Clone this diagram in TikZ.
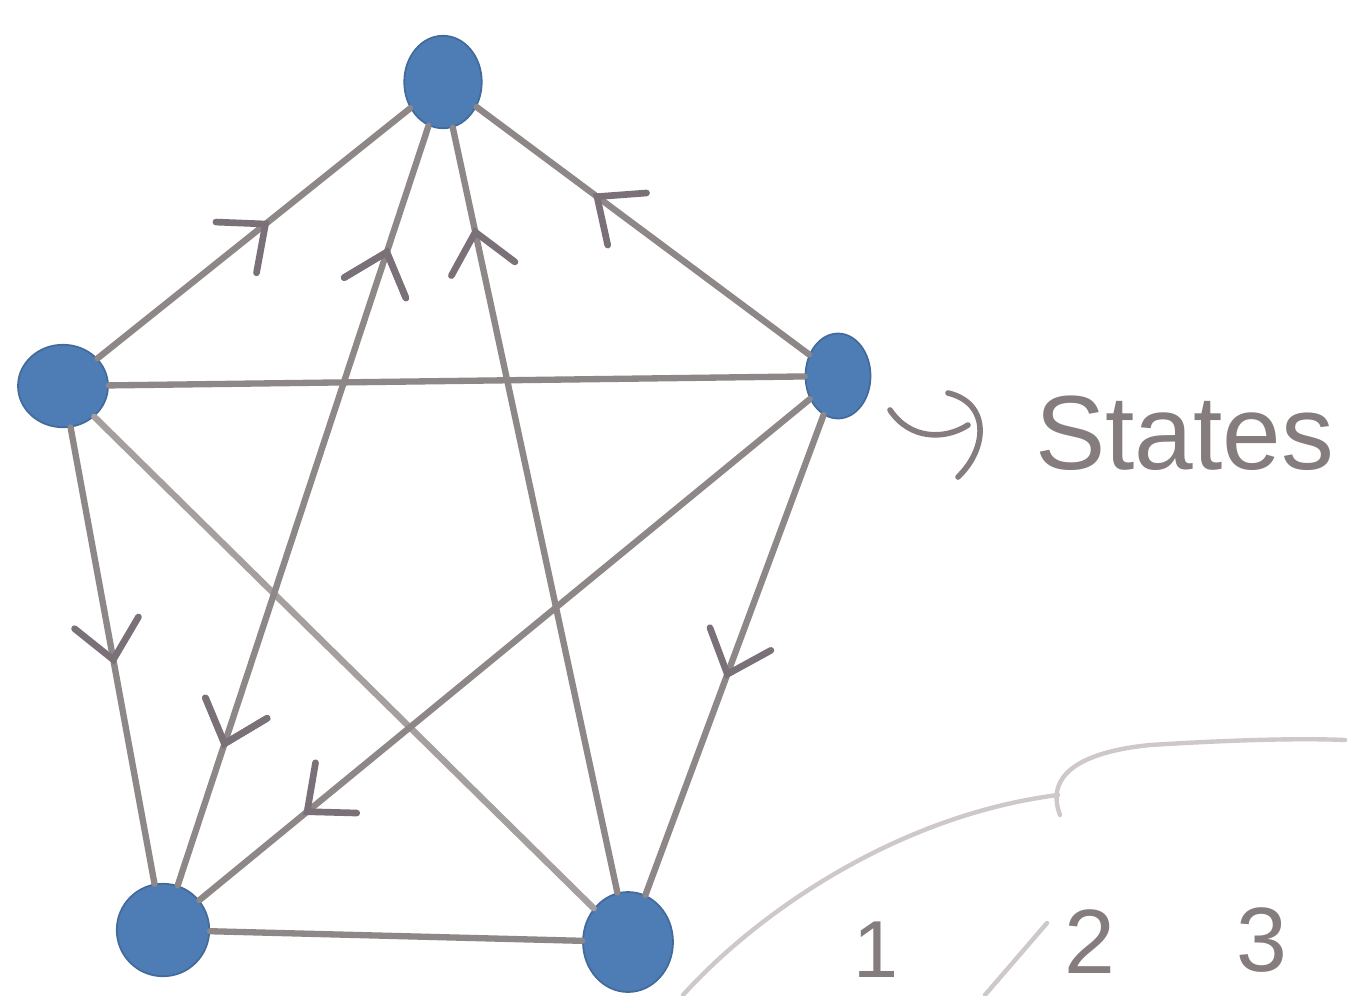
\documentclass[tikz,border=0pt]{standalone}
\usepackage{fontspec}
\setmainfont{Liberation Sans}
\usetikzlibrary{shapes.geometric,arrows.meta,decorations.markings}
\definecolor{nodeblue}{HTML}{4E7DB6}
\definecolor{edgegray}{HTML}{8E8787}
\definecolor{headgray}{HTML}{7A7078}
\definecolor{faint}{HTML}{CFC8C8}
\definecolor{inkgray}{HTML}{857C7E}
\tikzset{
  state/.style={ellipse, fill=nodeblue, draw=nodeblue!85!black, line width=1pt, inner sep=0pt},
  edge/.style={draw=edgegray, line width=3.6pt, line cap=round},
  midarrow/.style={postaction={decorate}, decoration={markings,
    mark=at position #1 with {\arrow[headgray, line width=3.8pt]{Straight Barb[length=0.75cm, width=1.3cm, line cap=round]}}}},
  revarrow/.style={postaction={decorate}, decoration={markings,
    mark=at position #1 with {\arrowreversed[headgray, line width=3.8pt]{Straight Barb[length=0.75cm, width=1.3cm, line cap=round]}}}},
  hand/.style={text=inkgray, inner sep=0pt},
  scribble/.style={draw=faint, line width=2.5pt, line cap=round}
}
\begin{document}
\begin{tikzpicture}[x=0.02cm, y=-0.02cm]
\clip (0,0) rectangle (1350,995);
\fill[white] (0,0) rectangle (1350,995);

% states
\node[state, minimum width=1.55cm, minimum height=1.85cm] (t) at (443,82) {};
\node[state, minimum width=1.8cm, minimum height=1.65cm] (l) at (63,386) {};
\node[state, minimum width=1.3cm, minimum height=1.7cm] (r) at (838,376) {};
\node[state, minimum width=1.85cm, minimum height=1.85cm] (bl) at (163,930) {};
\node[state, minimum width=1.8cm, minimum height=2.0cm] (br) at (628,942) {};

% undirected edges
\draw[edge] (l) -- (r);
\draw[edge, draw=edgegray!80] (l) -- (br);
\draw[edge] (bl) -- (br);

% directed edges
\draw[edge, midarrow=0.55] (l) -- (t);
\draw[edge, midarrow=0.65] (r) -- (t);
\draw[edge, midarrow=0.87] (br) -- (t);
\draw[edge, midarrow=0.52] (l) -- (bl);
\draw[edge, midarrow=0.83] (r) -- (bl);
\draw[edge, midarrow=0.55] (r) -- (br);
\draw[edge, midarrow=0.82, revarrow=0.16] (t) -- (bl);

% label with hooked arrow
\coordinate (hookstart) at (890,410);
\draw[inkgray, line width=3.2pt, line cap=round]
  (hookstart) .. controls (910,440) and (945,440) .. (968,425)
  (948,393) .. controls (990,403) and (988,448) .. (958,477);
\node[hand, anchor=west, font=\fontsize{60}{60}\selectfont] (states) at (1035,433) {States};

% scribbles at bottom right
\draw[scribble] (683,995) .. controls (760,910) and (900,815) .. (1058,795);
\draw[scribble] (1060,815) .. controls (1045,775) and (1080,752) .. (1150,745)
  .. controls (1230,740) and (1300,738) .. (1345,740);
\draw[scribble] (985,995) -- (1047,923);
\node[hand, font=\fontsize{46}{46}\selectfont] (n1) at (876,950) {1};
\node[hand, font=\fontsize{52}{52}\selectfont] (n2) at (1090,942) {2};
\node[hand, font=\fontsize{52}{52}\selectfont] (n3) at (1262,940) {3};
\end{tikzpicture}
\end{document}
